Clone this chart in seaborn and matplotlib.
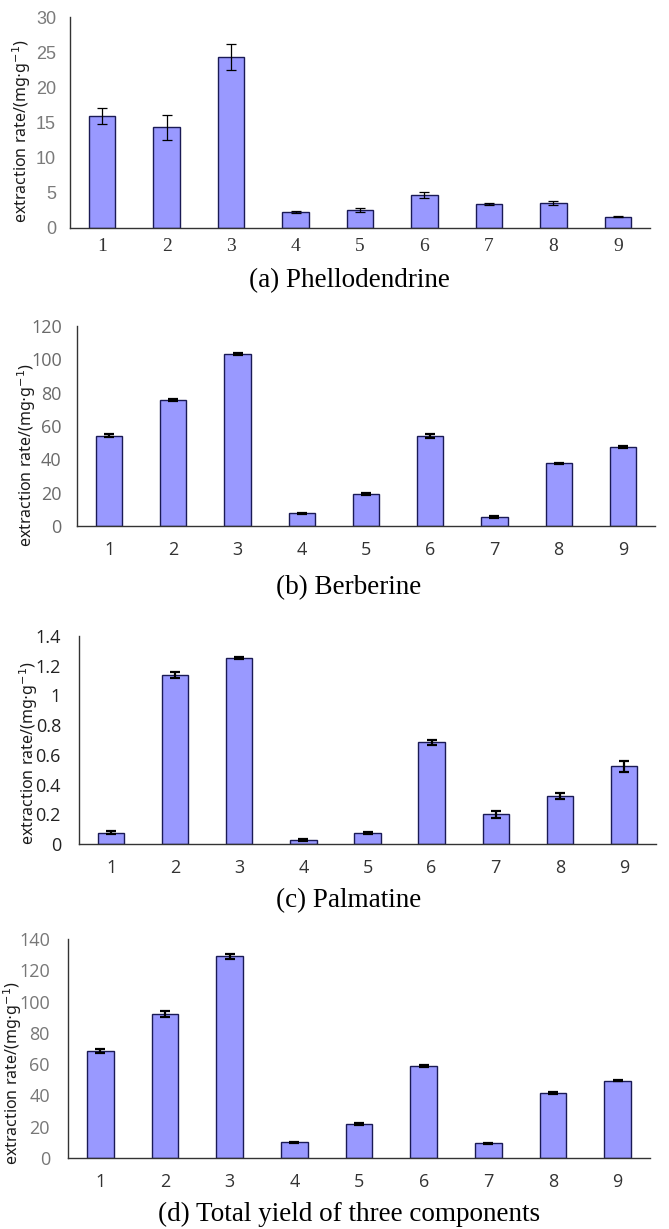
import numpy as np
import pandas as pd
import seaborn as sns
import matplotlib.pyplot as plt

runs = ['1', '2', '3', '4', '5', '6', '7', '8', '9']

phello = [15.9, 14.3, 24.3, 2.3, 2.6, 4.7, 3.4, 3.5, 1.6]
phello_err = [1.1, 1.8, 1.9, 0.1, 0.3, 0.4, 0.1, 0.3, 0.1]

berb = [54.3, 75.4, 103.0, 7.7, 19.3, 53.8, 5.6, 37.6, 47.3]
berb_err = [1.0, 0.6, 0.6, 0.4, 0.5, 1.2, 0.5, 0.4, 0.5]

palm = [0.075, 1.14, 1.25, 0.028, 0.075, 0.685, 0.2, 0.322, 0.522]
palm_err = [0.01, 0.02, 0.008, 0.005, 0.007, 0.018, 0.025, 0.022, 0.035]

total = [68.5, 92.0, 129.0, 10.0, 22.0, 59.0, 9.3, 41.5, 49.5]
total_err = [1.5, 1.8, 1.6, 0.4, 0.6, 0.6, 0.4, 0.6, 0.4]

captions = ['(a) Phellodendrine', '(b) Berberine', '(c) Palmatine',
            '(d) Total yield of three components']
y_ticks = [[0, 5, 10, 15, 20, 25, 30],
           [0, 20, 40, 60, 80, 100, 120],
           [0, 0.2, 0.4, 0.6, 0.8, 1, 1.2, 1.4],
           [0, 20, 40, 60, 80, 100, 120, 140]]

W, H = 669, 1229
BAR = '#9999ff'
EDGE = '#1a1a55'


def fbox(left, right, top, bottom):
    return [left / W, 1 - bottom / H, (right - left) / W, (bottom - top) / H]


def plot_panel(fig, box, vals, errs, ticks, caption, cap_y, lab_xy, ytcol, ypad, xpad,
               serif_x=False, ytfont='Open Sans', err_lw=1.6):
    ax = fig.add_axes(box)
    df = pd.DataFrame({'run': runs, 'val': vals})
    sns.barplot(data=df, x='run', y='val', ax=ax, color=BAR, saturation=1,
                width=0.41, edgecolor=EDGE, linewidth=1.0, errorbar=None)
    ax.errorbar(np.arange(len(runs)), vals, yerr=errs, fmt='none', ecolor='black',
                elinewidth=err_lw, capsize=3.8, capthick=err_lw)
    ax.set_xlim(-0.5, len(runs) - 0.5)
    ax.set_ylim(ticks[0], ticks[-1])
    ax.set_yticks(ticks)
    ax.set_yticklabels([f'{t:g}' for t in ticks], fontsize=13, color=ytcol,
                       family=ytfont)
    ax.set_xticks(np.arange(len(runs)))
    if serif_x:
        ax.set_xticklabels(runs, fontsize=14, color='#333333', family='Liberation Serif')
    else:
        ax.set_xticklabels(runs, fontsize=13, color='#333333', family='Open Sans')
    ax.set_xticks(np.arange(-0.5, len(runs)), minor=True)
    ax.tick_params(axis='x', which='major', length=0, pad=xpad)
    ax.tick_params(axis='x', which='minor', direction='in', length=4, width=1,
                   color='#333333')
    ax.tick_params(axis='y', direction='in', length=4, width=1, color='#333333',
                   pad=ypad)
    for s in ['top', 'right']:
        ax.spines[s].set_visible(False)
    for s in ['left', 'bottom']:
        ax.spines[s].set_color('#333333')
        ax.spines[s].set_linewidth(1.0)
    ax.set_xlabel('')
    ax.set_ylabel(r'extraction rate/(mg$\cdot$g$^{-1}$)', fontsize=11.5,
                  family='Noto Sans', color='#1a1a1a')
    ax.yaxis.label.set_rotation_mode('anchor')
    ax.yaxis.label.set_va('center')
    ax.yaxis.label.set_ha('center')
    ax.yaxis.set_label_coords(*lab_xy)
    fig.text(349 / W, 1 - cap_y / H, caption, ha='center', va='center',
             fontsize=19.5, family='Liberation Serif', color='black')
    return ax


sns.set_theme(style='white')
plt.rcParams['font.family'] = ['DejaVu Sans']
plt.rcParams['mathtext.fontset'] = 'dejavusans'

fig = plt.figure(figsize=(W / 100, H / 100), dpi=100)
fig.patch.set_facecolor('white')

plot_panel(fig, fbox(70, 650, 17, 228), phello, phello_err, y_ticks[0], captions[0], 281,
           (-0.083, 0.46), '#7a7a7a', 10, 7, serif_x=True, ytfont='Liberation Sans',
           err_lw=0.9)
plot_panel(fig, fbox(77, 655, 326, 526), berb, berb_err, y_ticks[1], captions[1], 588,
           (-0.087, 0.355), '#6a6a6a', 11, 11)
plot_panel(fig, fbox(79, 656, 636, 844), palm, palm_err, y_ticks[2], captions[2], 901,
           (-0.088, 0.44), '#222222', 13, 11)
plot_panel(fig, fbox(68, 650, 939, 1158), total, total_err, y_ticks[3], captions[3], 1214,
           (-0.095, 0.39), '#777777', 13, 11)

fig.savefig('out.png', dpi=100, facecolor='white')
